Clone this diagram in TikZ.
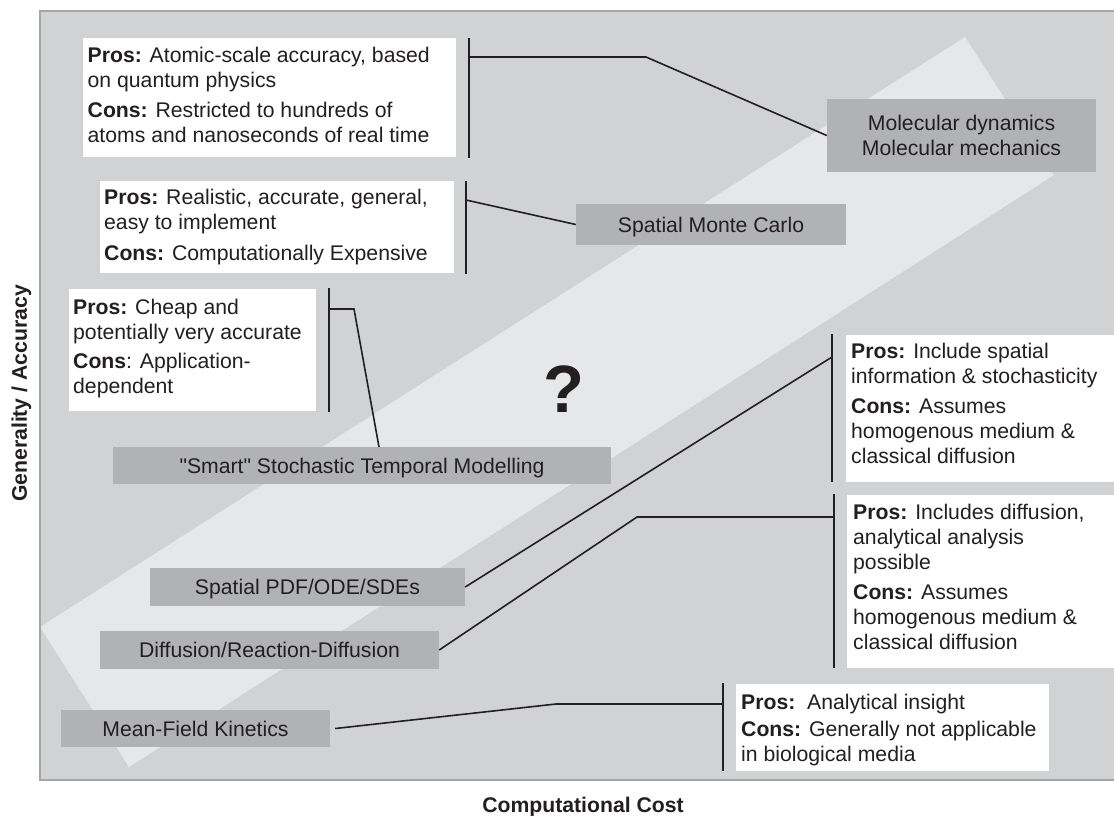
\documentclass[tikz,border=0pt]{standalone}
\usepackage{fontspec}
\setmainfont{Liberation Sans}
\newfontfamily\plainq[Ligatures=TeXOff]{Liberation Sans}
\definecolor{bg}{HTML}{D1D2D4}
\definecolor{band}{HTML}{E6E7E8}
\definecolor{gbx}{HTML}{B1B2B4}
\definecolor{ink}{HTML}{231F20}
\definecolor{framec}{HTML}{A3A5A8}
\newcommand{\fs}{\rule{0pt}{16pt}}
\begin{document}
\begin{tikzpicture}[x=1pt,y=-1pt,
  conn/.style={draw=ink, line width=1.6pt},
  wbox/.style={fill=white, draw=none, inner sep=0pt, anchor=north west},
  gbox/.style={fill=gbx, draw=none, inner sep=0pt, text=ink, font=\fontsize{21.2}{25}\selectfont},
  gline/.style={gbox, text height=15.3pt, text depth=0pt},
  ptxt/.style={inner sep=0pt, align=left, text=ink, font=\fontsize{21.2}{25}\selectfont, anchor=north west},
  axl/.style={inner sep=0pt, text=ink, font=\fontsize{21.2}{25}\selectfont\bfseries},
]
\useasboundingbox (0,0) rectangle (1114,815);
\clip (0,0) rectangle (1114,815);
\fill[white] (0,0) rectangle (1114,815);
% background and band
\fill[bg] (40,11) rectangle (1125,780);
\fill[band] (40,627) -- (965,37) -- (1054,175) -- (129,767) -- cycle;
\draw[framec, line width=2pt] (1125,11) -- (40,11) -- (40,780) -- (1125,780);

% white pros/cons boxes
\node[wbox, minimum width=373pt, minimum height=119pt] (w1) at (83,38) {};
\node[wbox, minimum width=354pt, minimum height=92pt] (w2) at (100,181) {};
\node[wbox, minimum width=247pt, minimum height=122pt] (w3) at (69,289) {};
\node[wbox, minimum width=290pt, minimum height=147pt] (w4) at (846,335) {};
\node[wbox, minimum width=290pt, minimum height=173pt] (w5) at (847,495) {};
\node[wbox, minimum width=313pt, minimum height=87pt] (w6) at (736,684) {};

% texts: first baseline = y + 16
\node[ptxt] (t1) at (87.5,46) {\fs\textbf{Pros:} Atomic-scale accuracy, based\\on quantum physics\\[5pt]\textbf{Cons:} Restricted to hundreds of\\atoms and nanoseconds of real time};
\node[ptxt] (t2) at (104,188) {\fs\textbf{Pros:} Realistic, accurate, general,\\easy to implement\\[6pt]\textbf{Cons:} Computationally Expensive};
\node[ptxt] (t3) at (73,298) {\fs\textbf{Pros:} Cheap and\\potentially very accurate\\[4pt]\textbf{Cons}: Application-\\dependent};
\node[ptxt] (t4) at (851,342) {\fs\textbf{Pros:} Include spatial\\information \& stochasticity\\[5pt]\textbf{Cons:} Assumes\\homogenous medium \&\\classical diffusion};
\node[ptxt] (t5) at (853,503) {\fs\textbf{Pros:} Includes diffusion,\\analytical analysis\\possible\\[5pt]\textbf{Cons:} Assumes\\homogenous medium \&\\classical diffusion};
\node[ptxt] (t6) at (741,693) {\fs\textbf{Pros:}\ \ Analytical insight\\[2pt]\textbf{Cons:} Generally not applicable\\in biological media};

% grey method boxes
\node[gbox, align=center, minimum width=269pt, minimum height=73pt] (md) at (961.5,135.5) {Molecular dynamics\\Molecular mechanics};
\node[gline, minimum width=270pt, minimum height=41pt] (smc) at (711,224.5) {Spatial Monte Carlo};
\node[gline, minimum width=498pt, minimum height=37pt] (smart) at (362,465.5) {{\plainq"Smart"} Stochastic Temporal Modelling};
\node[gline, minimum width=315pt, minimum height=38pt] (pdf) at (307.5,587) {Spatial PDF/ODE/SDEs};
\node[gline, minimum width=339pt, minimum height=38pt] (diff) at (269.5,650) {Diffusion/Reaction-Diffusion};
\node[gline, minimum width=269pt, minimum height=37pt] (mf) at (195.5,728.5) {Mean-Field Kinetics};

% question mark
\node[inner sep=0pt, text=ink, font=\fontsize{67}{70}\selectfont\bfseries, anchor=base] (q) at (564,412) {?};

% brackets
\coordinate (k1t) at (469,38);  \coordinate (k1b) at (469,158); \coordinate (k1m) at (469,57);
\coordinate (k2t) at (466,181); \coordinate (k2b) at (466,274); \coordinate (k2m) at (466,200);
\coordinate (k3t) at (329,288); \coordinate (k3b) at (329,412); \coordinate (k3m) at (329,309);
\coordinate (k4t) at (832,334); \coordinate (k4b) at (832,482); \coordinate (k4m) at (832,357);
\coordinate (k5t) at (834,494); \coordinate (k5b) at (834,668); \coordinate (k5m) at (834,517);
\coordinate (k6t) at (723,683); \coordinate (k6b) at (723,771); \coordinate (k6m) at (723,704);
\foreach \k in {1,...,6} { \draw[conn] (k\k t) -- (k\k b); }

% bends and free ends
\coordinate (b1) at (646,57);
\coordinate (b3) at (354,309);
\coordinate (e3) at (379,447);
\coordinate (b5) at (637,517);
\coordinate (b6) at (556,704);

% connectors
\draw[conn] (k1m) -- (b1) -- (md.west);
\draw[conn] (k2m) -- (smc.west);
\draw[conn] (k3m) -- (b3) -- (e3);
\draw[conn] (k4m) -- (pdf.east);
\draw[conn] (k5m) -- (b5) -- (diff.east);
\draw[conn] (k6m) -- (b6) -- ([xshift=5pt]mf.east);

% axis labels
\node[axl, rotate=90, anchor=base] (ya) at (27,393.5) {Generality / Accuracy};
\node[axl, anchor=base] (xa) at (583,812) {Computational Cost};
\end{tikzpicture}
\end{document}
